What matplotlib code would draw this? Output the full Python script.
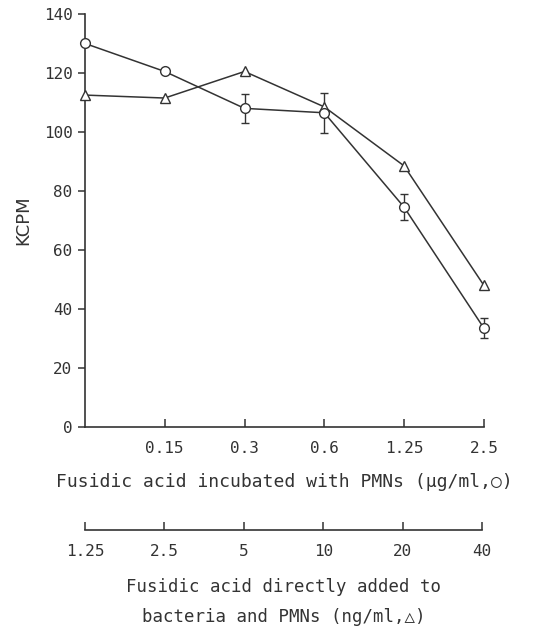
import matplotlib
matplotlib.use("Agg")
import matplotlib.pyplot as plt

# Data
pmn_labels = ["", "0.15", "0.3", "0.6", "1.25", "2.5"]
direct_labels = ["1.25", "2.5", "5", "10", "20", "40"]
circle_vals = [130, 120.5, 108, 106.5, 74.5, 33.5]
circle_err = [0, 0, 5, 6.7, 4.5, 3.5]
tri_vals = [112.5, 111.5, 120.5, 108.5, 88.5, 48]
y_ticks = [0, 20, 40, 60, 80, 100, 120, 140]

ink = "#333333"
mono = ["DejaVu Sans Mono", "DejaVu Sans"]
sans = ["DejaVu Sans"]

fig = plt.figure(figsize=(5.48, 6.34), dpi=100)
ax = fig.add_axes([0.155, 0.3265, 0.728, 0.6515])

x = list(range(len(pmn_labels)))
ax.errorbar(x, circle_vals, yerr=circle_err, color=ink, lw=1.1, marker="o",
            ms=7, mfc="white", mec=ink, mew=1.0, capsize=3, elinewidth=1.0,
            clip_on=False, zorder=3)
ax.plot(x, tri_vals, color=ink, lw=1.1, marker="^", ms=7.5, mfc="white",
        mec=ink, mew=1.0, clip_on=False, zorder=3)

ax.set_xlim(0, 5)
ax.set_ylim(0, 140)
for s in ["top", "right"]:
    ax.spines[s].set_visible(False)
for s in ["left", "bottom"]:
    ax.spines[s].set_color(ink)
    ax.spines[s].set_linewidth(1.2)

ax.set_yticks(y_ticks)
ax.set_yticklabels([str(v) for v in y_ticks], fontfamily=mono, fontsize=11.5, color=ink)
ax.tick_params(axis="y", direction="out", length=5, width=1.1, color=ink, pad=4)

ax.set_xticks(x[1:])
ax.set_xticklabels(pmn_labels[1:], fontfamily=mono, fontsize=11.5, color=ink)
ax.tick_params(axis="x", direction="in", length=6, width=1.1, color=ink, pad=10)
ax.set_ylabel("KCPM", fontfamily=sans, fontsize=13, color=ink, labelpad=8)
ax.set_xlabel("Fusidic acid incubated with PMNs (µg/ml,○)", fontfamily=mono,
              fontsize=13, color=ink, labelpad=12)

# Second x axis
ax2 = fig.add_axes([0.155, 0.164, 0.725, 0.001])
ax2.set_xlim(0, 5)
ax2.set_yticks([])
for s in ["top", "right", "left"]:
    ax2.spines[s].set_visible(False)
ax2.spines["bottom"].set_color(ink)
ax2.spines["bottom"].set_linewidth(1.2)
ax2.patch.set_visible(False)
ax2.set_xticks(x)
ax2.set_xticklabels(direct_labels, fontfamily=mono, fontsize=11.5, color=ink)
ax2.tick_params(axis="x", direction="in", length=6, width=1.1, color=ink, pad=10)
ax2.set_xlabel("Fusidic acid directly added to\nbacteria and PMNs (ng/ml,△)",
               fontfamily=mono, fontsize=12.5, color=ink, labelpad=14,
               linespacing=1.8)

fig.savefig("out.png", dpi=100)
